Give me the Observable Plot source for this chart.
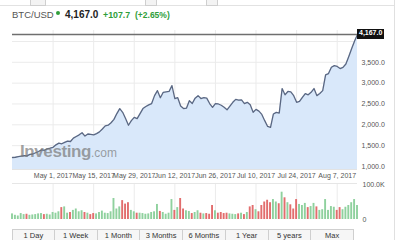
<!DOCTYPE html>
<html><head><meta charset="utf-8">
<script src="https://cdn.jsdelivr.net/npm/d3@7"></script>
<script src="https://cdn.jsdelivr.net/npm/@observablehq/plot@0.6"></script>
<style>
html,body{margin:0;padding:0;background:#fff;}
body{width:400px;height:240px;position:relative;overflow:hidden;font-family:"Liberation Sans",Arial,sans-serif;}
.abs{position:absolute;}
svg{overflow:visible;}
</style></head><body>
<script>
// ---------- data ----------
const symbol = "BTC/USD";
const lastPriceText = "4,167.0";
const changeText = "+107.7";
const changePctText = "(+2.65%)";
const lastPrice = 4167.0;
const startDate = "2017-04-17";   // first daily point
const endDate = "2017-08-14";     // last daily point
// daily closes, Apr 17 – Aug 14 2017
const price = [
  1216,1222,1235,1248,1262,1255,1290,1300,1330,1360,1400,1390,1425,1440,
  1460,1520,1560,1545,1580,1610,1600,1680,1720,1760,1810,1730,1780,1770,
  1760,1790,1830,1900,1975,1990,2050,2130,2270,2390,2300,2150,1990,2100,
  2180,2150,2270,2390,2440,2480,2510,2700,2820,2650,2780,2790,2800,2940,
  2630,2650,2450,2390,2400,2580,2510,2640,2700,2630,2650,2640,2510,2420,
  2510,2500,2470,2420,2360,2450,2540,2610,2590,2600,2510,2540,2480,2300,
  2370,2330,2250,2100,1960,1937,2260,2300,2280,2870,2720,2800,2790,2700,
  2540,2560,2660,2750,2720,2780,2870,2700,2750,2820,3200,3230,3380,3420,
  3400,3350,3380,3460,3640,3830,4010,4167
];
// daily volume, thousands
const volume = [
  16,12,10,17,14,15,12,13,14,16,17,14,15,13,
  20,18,22,34,36,18,20,26,30,22,25,20,18,14,
  17,16,20,24,18,17,22,60,30,36,54,44,48,26,
  22,18,18,17,15,16,20,22,43,23,20,15,18,57,
  26,34,60,30,25,23,17,20,25,18,16,17,15,40,
  25,18,20,17,18,16,15,14,16,18,14,20,36,40,
  28,22,40,50,55,48,57,50,45,78,62,48,42,30,
  57,43,40,46,34,37,46,36,26,28,57,26,37,35,
  26,34,28,35,40,48,57,40
];
const tickDates = ["2017-05-01","2017-05-15","2017-05-29","2017-06-12","2017-06-26","2017-07-10","2017-07-24","2017-08-07"];
const priceTicks = [1000,1500,2000,2500,3000,3500];
const priceGrid = [1000,1500,2000,2500,3000,3500,4000];
const volTicks = [0,100];
const buttons = ["1 Day","1 Week","1 Month","3 Months","6 Months","1 Year","5 years","Max"];

// ---------- build ----------
const X0 = new Date(startDate), X1 = new Date(endDate);
const series = price.map((p,i)=>({
  date: d3.utcDay.offset(X0, i),
  price: p,
  vol: volume[i],
  up: i === 0 ? true : p >= price[i-1]
}));
const tickD = tickDates.map(d=>new Date(d));
const yDom = [928, 4263];
const GREEN = "#8fd19e", RED = "#e26d6d";
const font = "Liberation Sans, Arial, sans-serif";

const body = document.body;
function el(tag, css, html){ const e=document.createElement(tag); e.className="abs"; e.style.cssText=css; if(html!=null) e.innerHTML=html; body.appendChild(e); return e; }

// top chrome
el("div","left:0;top:5px;width:394px;height:0;border-top:1px solid #e2e2e2;");
el("div","left:30px;top:-3px;width:14px;height:7px;border:1px solid #cfcfcf;background:#f3f3f3;");
el("div","left:145px;top:-3px;width:10px;height:7px;border:1px solid #cfcfcf;background:#f3f3f3;");
el("div","left:206px;top:-3px;width:10px;height:7px;border:1px solid #cfcfcf;background:#f3f3f3;");
el("div","left:394px;top:0;width:0;height:240px;border-left:1px solid #e0e0e0;");

// title
el("div",`left:12px;top:9px;font:9.5px ${font};color:#555;white-space:nowrap;`, symbol);
el("div",`left:56px;top:11px;width:4px;height:4px;border-radius:2px;background:#2f9e3a;`);
el("div",`left:65px;top:9px;font:bold 10px ${font};color:#222;white-space:nowrap;`, lastPriceText);
el("div",`left:103px;top:10px;font:bold 8.8px ${font};color:#2f9e3a;white-space:nowrap;`, changeText);
el("div",`left:135px;top:10px;font:bold 8.5px ${font};color:#2f9e3a;white-space:nowrap;`, changePctText);

// price chart
const pricePlot = Plot.plot({
  width: 400, height: 160,
  marginLeft: 12, marginRight: 43, marginTop: 5, marginBottom: 16,
  style: {fontSize: "7px", fontFamily: font, color: "#555", background: "transparent"},
  x: {type: "utc", domain: [X0, X1], ticks: tickD, tickFormat: d3.utcFormat("%b %-d, %Y"), tickSize: 0, tickPadding: 4, label: null},
  y: {domain: yDom, axis: "right", ticks: priceTicks, tickFormat: d3.format(",.1f"), tickSize: 0, tickPadding: 4, label: null},
  marks: [
    Plot.ruleY(priceGrid, {stroke: "#ebebeb", strokeWidth: 1}),
    Plot.ruleX(tickD, {stroke: "#ebebeb", strokeWidth: 1}),
    Plot.areaY(series, {x: "date", y1: () => yDom[0], y2: "price", fill: "#d9e8fa"}),
    Plot.lineY(series, {x: "date", y: "price", stroke: "#5a6782", strokeWidth: 1.3}),
    Plot.ruleY([lastPrice], {stroke: "#6f6f6f", strokeWidth: 1.6}),
    Plot.ruleY([yDom[0]], {stroke: "#e3e3e3"})
  ]
});
const pw = document.createElement("div"); pw.className="abs"; pw.style.cssText="left:0;top:25px;";
pw.appendChild(pricePlot); body.appendChild(pw);

// current price badge
const yLast = pricePlot.scale("y").apply(lastPrice) + 25;
el("div",`left:357px;top:${yLast-5}px;height:10px;line-height:10px;padding:0 2px;background:#111;color:#fff;font:bold 7px ${font};white-space:nowrap;`, lastPriceText);

// watermark
el("div",`left:20px;top:142px;white-space:nowrap;color:rgba(120,120,120,0.7);`,
  `<span style="font:bold 17px ${font};letter-spacing:-0.4px;">Investing</span><span style="font:12px ${font};">.com</span>`);

// volume chart
const volPlot = Plot.plot({
  width: 400, height: 43,
  marginLeft: 12, marginRight: 43, marginTop: 4, marginBottom: 4,
  style: {fontSize: "7px", fontFamily: font, color: "#555", background: "transparent"},
  x: {type: "utc", domain: [X0, X1], axis: null},
  y: {domain: [0, 100], axis: "right", ticks: volTicks, tickFormat: d => d === 0 ? "0" : d3.format(".1f")(d) + "K", tickSize: 0, tickPadding: 5, label: null},
  marks: [
    Plot.ruleX(tickD, {stroke: "#ebebeb", y1: 0, y2: 103}),
    Plot.rectY(series, {
      x1: d => new Date(+d.date - 12*3600e3),
      x2: d => new Date(+d.date + 12*3600e3),
      y: "vol",
      fill: d => d.up ? GREEN : RED,
      insetLeft: 0.5, insetRight: 0.5
    })
  ]
});
const vw = document.createElement("div"); vw.className="abs"; vw.style.cssText="left:0;top:180px;";
vw.appendChild(volPlot); body.appendChild(vw);
el("div","left:12px;top:183px;width:345px;height:0;border-top:1px solid #e6e6e6;");

// range buttons
const bw = (354-12)/buttons.length;
buttons.forEach((b,i)=>{
  el("div",`left:${12+i*bw}px;top:229px;width:${bw}px;height:14px;box-sizing:border-box;border:1px solid #cfcfcf;${i>0?'border-left:none;':''}background:#f6f6f6;text-align:center;font:7.5px/8px ${font};color:#333;padding-top:2px;white-space:nowrap;`, b);
});
</script>
</body></html>
